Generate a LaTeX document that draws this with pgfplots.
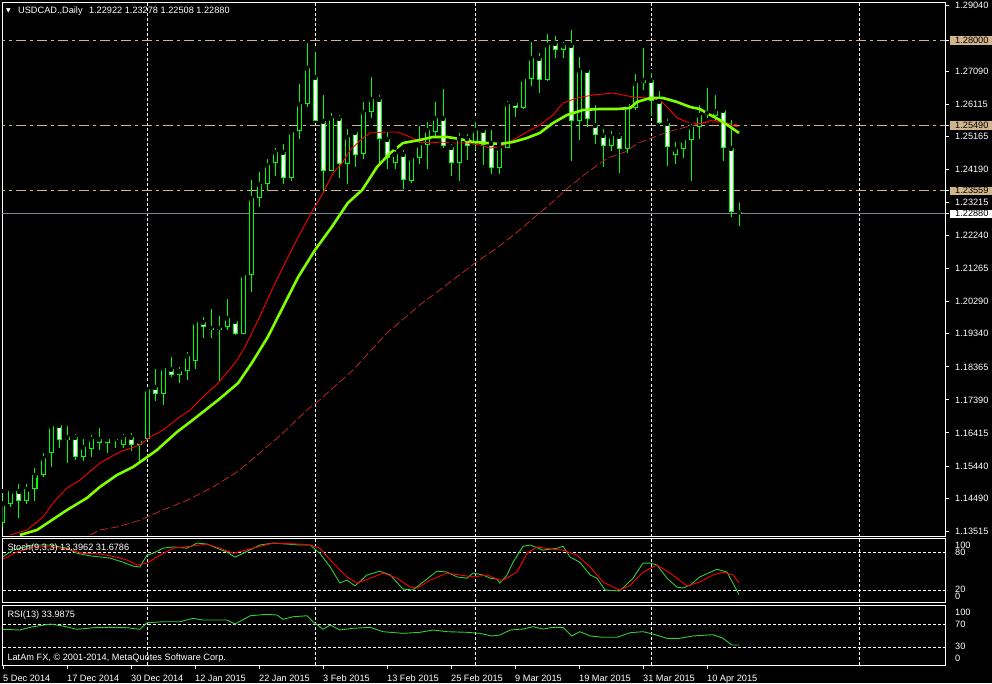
\documentclass[border=0pt]{standalone}
\usepackage{fontspec}
\setmainfont{Liberation Sans}
\newfontfamily\symfont{DejaVu Sans}
\usepackage{pgfplots}
\pgfplotsset{compat=1.18}
\usepackage{pgfplotstable}
\definecolor{mtLime}{RGB}{0,255,0}
\definecolor{maGreen}{RGB}{127,255,0}
\definecolor{maRed}{RGB}{255,0,0}
\definecolor{maDark}{RGB}{190,36,36}
\definecolor{mtTan}{RGB}{210,180,140}
\definecolor{bidGray}{RGB}{119,136,153}
\definecolor{oscGreen}{RGB}{50,205,50}
\setlength{\fboxsep}{1pt}
\newcommand{\hlbox}[2]{\hspace*{-5pt}\colorbox{#1}{\hspace*{4pt}\textcolor{black}{#2}\hspace*{3pt}}}
\newcommand{\mtfont}{\fontsize{9.2}{11}\selectfont}

\pgfplotstableread{
i O H L C
0 1.13759 1.14703 1.13641 1.14349
1 1.14320 1.14821 1.14231 1.14703
2 1.14703 1.14969 1.13907 1.14408
3 1.14408 1.14969 1.14320 1.14762
4 1.14762 1.15441 1.14408 1.15175
5 1.15175 1.15883 1.15116 1.15677
6 1.15824 1.16680 1.15411 1.16621
7 1.16650 1.16650 1.15972 1.16208
8 1.16208 1.16680 1.15529 1.16296
9 1.16296 1.16444 1.15618 1.15706
10 1.15706 1.16296 1.15588 1.16001
11 1.15942 1.16414 1.15706 1.16237
12 1.16237 1.16621 1.15913 1.16119
13 1.16119 1.16355 1.15824 1.16237
14 1.16208 1.16267 1.15972 1.16237
15 1.16060 1.16444 1.15972 1.16296
16 1.16296 1.16473 1.15883 1.16060
17 1.16060 1.16237 1.15588 1.16178
18 1.16237 1.17712 1.16237 1.17712
19 1.17771 1.18361 1.17358 1.17565
20 1.17565 1.18332 1.17240 1.18332
21 1.18302 1.18715 1.18066 1.18125
22 1.18125 1.18420 1.17889 1.18243
23 1.18243 1.18863 1.17978 1.18686
24 1.18538 1.19718 1.18302 1.19689
25 1.19689 1.19895 1.19217 1.19541
26 1.19453 1.20131 1.19217 1.19512
27 1.19453 1.19925 1.17948 1.19512
28 1.19541 1.20426 1.19453 1.19807
29 1.19718 1.19836 1.19305 1.19335
30 1.19335 1.21075 1.19335 1.21075
31 1.21075 1.23937 1.20574 1.23347
32 1.23347 1.24173 1.23081 1.23760
33 1.23760 1.24556 1.23553 1.24320
34 1.24379 1.24881 1.23996 1.24704
35 1.24704 1.24999 1.23760 1.23937
36 1.23937 1.25353 1.23848 1.25294
37 1.25323 1.26769 1.25087 1.26120
38 1.26120 1.27978 1.26031 1.27182
39 1.26916 1.27713 1.25618 1.25618
40 1.25618 1.26444 1.23494 1.24143
41 1.24143 1.25913 1.24143 1.25707
42 1.25707 1.25854 1.23937 1.24350
43 1.24350 1.25441 1.23760 1.25146
44 1.25294 1.25382 1.24261 1.24615
45 1.24645 1.26238 1.24497 1.25884
46 1.25884 1.26975 1.25707 1.26267
47 1.26267 1.26444 1.24379 1.25087
48 1.25087 1.25353 1.24202 1.24527
49 1.24379 1.24822 1.24202 1.24645
50 1.24645 1.24822 1.23612 1.23878
51 1.23848 1.24645 1.23789 1.24527
52 1.24527 1.25530 1.24350 1.24910
53 1.24910 1.25648 1.24202 1.25353
54 1.25294 1.26238 1.25146 1.25707
55 1.25707 1.26621 1.24822 1.24881
56 1.24851 1.24999 1.23996 1.24379
57 1.24379 1.25323 1.23848 1.25117
58 1.25117 1.25294 1.24468 1.24881
59 1.24999 1.25648 1.24763 1.25353
60 1.25353 1.25412 1.24320 1.24910
61 1.24969 1.25412 1.24055 1.24232
62 1.24232 1.24940 1.24055 1.24822
63 1.24822 1.26267 1.24822 1.26120
64 1.26149 1.26267 1.25736 1.26002
65 1.26002 1.26887 1.25972 1.26857
66 1.26857 1.28008 1.26651 1.27477
67 1.27477 1.27683 1.26444 1.26828
68 1.26828 1.28244 1.26798 1.27860
69 1.27919 1.28185 1.27477 1.27713
70 1.27713 1.28008 1.27477 1.27860
71 1.27860 1.28362 1.24438 1.25618
72 1.25618 1.27565 1.25058 1.27123
73 1.27123 1.27241 1.25441 1.25677
74 1.25500 1.26149 1.24940 1.25205
75 1.25205 1.25441 1.24261 1.24881
76 1.24881 1.25382 1.24733 1.25176
77 1.25176 1.25323 1.24084 1.24792
78 1.24792 1.26149 1.24674 1.26120
79 1.26002 1.27064 1.25943 1.26739
80 1.26739 1.27831 1.26533 1.26828
81 1.26828 1.27093 1.25766 1.26208
82 1.26208 1.26562 1.25530 1.25559
83 1.25559 1.25736 1.24291 1.24851
84 1.24615 1.25058 1.24350 1.24792
85 1.24792 1.25176 1.24527 1.25058
86 1.25058 1.25589 1.23848 1.25441
87 1.25441 1.26149 1.25087 1.25795
88 1.25795 1.26651 1.25707 1.25854
89 1.25766 1.26444 1.25618 1.25913
90 1.25943 1.26061 1.24438 1.24822
91 1.24822 1.25707 1.22786 1.22922
92 1.22922 1.23278 1.22508 1.22880
}\candles

\pgfplotsset{
  mtpanel/.style={
    scale only axis, width=942.5pt,
    xmin=-0.0625, xmax=117.75,
    axis line style={draw=white, line width=1pt},
    tick style={draw=white, line width=1pt},
    major grid style={draw=white, line width=0.8pt, dash pattern=on 3pt off 2pt},
    tick label style={font=\mtfont, text=white},
    axis background/.style={fill=black},
  },
  bar/.style={only marks, mark=none, forget plot,
    error bars/.cd, y dir=minus, y explicit, error mark=none},
}

\begin{document}
\begin{tikzpicture}
\fill[black] (0pt,0pt) rectangle (992pt,683pt);

% ---------- main price panel ----------
\begin{axis}[mtpanel, at={(2.5pt,146.5pt)}, anchor=south west, height=534pt,
  ymin=1.13361, ymax=1.29114,
  xtick={18,39,59,81,107}, xticklabels={}, xmajorticks=false, xmajorgrids=true,
  ytick={1.13515,1.14490,1.15440,1.16415,1.17390,1.18365,1.19340,1.20290,1.21265,1.22240,1.22880,1.23215,1.23559,1.24190,1.25165,1.25490,1.26115,1.27090,1.28000,1.29040},
  yticklabels={1.13515,1.14490,1.15440,1.16415,1.17390,1.18365,1.19340,1.20290,1.21265,1.22240,\hlbox{white}{1.22880},1.23215,\hlbox{mtTan}{1.23559},1.24190,1.25165,\hlbox{mtTan}{1.25490},1.26115,1.27090,\hlbox{mtTan}{1.28000},1.29040},
  ytick pos=right, yticklabel pos=right, ytick align=outside, major tick length=4pt,
  yticklabel style={anchor=west, inner sep=0pt, xshift=6pt},
]
% user horizontal lines and bid line
\addplot[mtTan, line width=0.8pt, dash pattern=on 10pt off 4pt on 3pt off 4pt, forget plot] coordinates {(-1,1.28000) (118,1.28000)};
\addplot[mtTan, line width=0.8pt, dash pattern=on 10pt off 4pt on 3pt off 4pt, forget plot] coordinates {(-1,1.25490) (118,1.25490)};
\addplot[mtTan, line width=0.8pt, dash pattern=on 10pt off 4pt on 3pt off 4pt, forget plot] coordinates {(-1,1.23559) (118,1.23559)};
\addplot[bidGray, line width=1pt, forget plot] coordinates {(-1,1.22880) (118,1.22880)};

% candles: wicks
\addplot[bar, error bar style={draw=mtLime, line width=1pt, solid}]
  table[x=i, y=H, y error minus expr={\thisrow{H}-\thisrow{L}}] {\candles};
% bodies (outline)
\addplot[bar, error bar style={draw=mtLime, line width=5pt, solid}]
  table[x=i, y expr={max(\thisrow{O},\thisrow{C})}, y error minus expr={max(abs(\thisrow{O}-\thisrow{C}),0.0003)}] {\candles};
% bull bodies: black inside
\addplot[restrict expr to domain={\thisrow{C}-\thisrow{O}}{0.0007:1}, bar, error bar style={draw=black, line width=3pt, solid}]
  table[x=i, y expr={\thisrow{C}-0.0003}, y error minus expr={\thisrow{C}-\thisrow{O}-0.0006}] {\candles};
% bear bodies: white inside
\addplot[restrict expr to domain={\thisrow{O}-\thisrow{C}}{0.0007:1}, bar, error bar style={draw=white, line width=3pt, solid}]
  table[x=i, y expr={\thisrow{O}-0.0003}, y error minus expr={\thisrow{O}-\thisrow{C}-0.0006}] {\candles};

% long moving average (dashed dark red)
\addplot[maDark, line width=0.8pt, dash pattern=on 8pt off 3pt, forget plot] coordinates {
(10.9,1.13405) (12.1,1.13553) (14.25,1.13641) (17.1,1.13840) (20,1.14143) (23,1.14430) (26.25,1.14821) (29.25,1.15264) (32.1,1.15824) (35,1.16414) (38,1.17093) (39.6,1.17388) (43.75,1.18273) (48,1.19365) (52.1,1.20191) (56.25,1.20928) (59,1.21430) (61.75,1.21872) (64.6,1.22403) (66.9,1.22875) (68,1.23081) (70.6,1.23642) (73.1,1.24114) (75.6,1.24527) (77.75,1.24704) (79.4,1.24969) (81.1,1.25117) (83.1,1.25294) (84.9,1.25412) (86.5,1.25500) (88.1,1.25589) (89.9,1.25589) (91.75,1.25500)};
% fast moving average (red)
\addplot[maRed, line width=0.9pt, forget plot] coordinates {
(0.9,1.13405) (3,1.13553) (5,1.13936) (6.25,1.14349) (8,1.14792) (9.6,1.15020) (12.1,1.15529) (14.6,1.15854) (17.1,1.16060) (18.4,1.16296) (20,1.16503) (22.1,1.16887) (23.4,1.17093) (24.6,1.17388) (26.9,1.17889) (29,1.18479) (30.25,1.18952) (31.9,1.19748) (33.6,1.20633) (35.25,1.21427) (36.9,1.22197) (38.6,1.22934) (40,1.23494) (41.25,1.24080) (42.4,1.24379) (43.4,1.24763) (45,1.25117) (45.9,1.25265) (48,1.25294) (49.25,1.25294) (50.9,1.25146) (52.1,1.24999) (53.4,1.24969) (54.6,1.24999) (56.25,1.24969) (58,1.24969) (59.6,1.24910) (60.9,1.24822) (62.1,1.24851) (63.75,1.25058) (65.5,1.25294) (67.1,1.25500) (68.75,1.25795) (70,1.26149) (71.75,1.26297) (73.75,1.26385) (76.25,1.26444) (78.75,1.26326) (80.9,1.26297) (82.1,1.26238) (83,1.26031) (84.25,1.25707) (85.5,1.25589) (87.1,1.25530) (88.75,1.25648) (89.6,1.25589) (90.9,1.25500) (91.9,1.25441)};
% medium moving average (thick lime)
\addplot[maGreen, line width=2.6pt, forget plot] coordinates {
(2.1,1.13405) (4.25,1.13553) (8,1.14143) (10.5,1.14498) (12.1,1.14822) (14.25,1.15175) (16.25,1.15411) (17.5,1.15618) (19.25,1.15913) (21.75,1.16444) (23.4,1.16740) (26.9,1.17388) (29.4,1.17889) (31.1,1.18479) (33.1,1.19247) (35.25,1.20249) (36.9,1.21016) (39,1.21813) (41.1,1.22492) (43.1,1.23199) (44.9,1.23583) (46.75,1.24261) (48.4,1.24674) (50,1.24969) (52.1,1.25058) (53.75,1.25147) (55.5,1.25147) (57.1,1.25087) (58.75,1.24999) (60.5,1.24969) (62.1,1.24940) (63.75,1.24999) (65.5,1.25117) (67.1,1.25265) (68.75,1.25559) (70.5,1.25795) (72.5,1.25943) (74.6,1.25972) (76.75,1.25972) (78.4,1.26002) (79.25,1.26179) (80.9,1.26297) (82.5,1.26297) (84.25,1.26179) (85.9,1.26031) (87.1,1.25972) (88.4,1.25795) (89.6,1.25648) (91.1,1.25412) (92,1.25265)};
\end{axis}

% ---------- stochastic panel ----------
\begin{axis}[mtpanel, at={(2.5pt,81pt)}, anchor=south west, height=63.5pt,
  ymin=1.7, ymax=101.2,
  xtick={18,39,59,81,107}, xticklabels={}, xmajorticks=false, xmajorgrids=true,
  ytick={20,80}, yticklabels={}, ymajorticks=false, ymajorgrids=true]
\addplot[oscGreen, line width=0.9pt] coordinates {
(0,72.7) (1.25,83) (3.75,91) (5.9,91) (8,86) (9.25,78) (10.9,74) (13.4,70.5) (15,64) (16.25,58) (17.1,56.5) (18,75) (18.75,78) (20,86) (21.25,88) (23,86) (24.25,94) (25.5,92.5) (26.75,86) (28,80) (29,72) (30,78) (32.1,91) (33.75,94) (35.5,92.5) (37.1,91) (38.4,91) (39.6,78) (40.9,56.5) (42.1,31.4) (43,36) (44,27) (45.5,44) (47.1,50) (48.4,44) (50,22) (51.25,20.5) (52.5,33) (54.25,50) (55.5,48.6) (56.75,41) (58,39) (58.75,47) (60,44) (60.9,39) (61.75,37.6) (62.1,31.4) (63,44) (63.75,64) (65,89) (65.9,91) (67.5,83) (69.25,86) (70,89) (70.9,72) (72.1,64) (73.4,44) (74.25,39) (75.25,20.5) (77.1,19) (78.75,39) (80,62.7) (80.9,62.7) (81.75,59.6) (83,39) (84.25,25) (85,23.6) (85.9,28) (87.1,41) (89.25,53) (90.5,48.6) (92,13.4)};
\addplot[maRed, line width=0.9pt] coordinates {
(0,69) (1.75,80) (3.75,88) (5.9,88) (8,85) (10,78) (12.1,77) (14.25,72) (15.5,67.4) (16.75,59.6) (18,62.7) (19.6,75) (21.25,86) (23.4,89) (25.5,92.5) (27.1,86) (28.75,78) (31.25,86) (33.75,94) (37.1,92.5) (38.4,91) (39.6,86) (41.25,62.7) (43,41) (44.25,31.4) (45.9,39) (47.5,47) (49.25,39) (50.9,25) (51.75,23.6) (53.4,36) (55.5,47) (57.1,44) (58.75,41) (60.5,44) (62.1,36) (62.5,36) (64.25,48.6) (65.5,78) (66.75,88) (68.4,85) (70,83) (71.75,75) (73.4,56.5) (75,33) (77.1,20.5) (78.4,28) (80,48.6) (81.75,59.6) (83.4,47) (85.5,26.7) (87.1,33) (88.75,44) (90,48.6) (91.25,44) (92,31.7)};
\end{axis}

% ---------- RSI panel ----------
\begin{axis}[mtpanel, at={(2.5pt,18pt)}, anchor=south west, height=59.5pt,
  ymin=-1.3, ymax=103.9,
  xtick={0,8,16,24,32,40,48,56,64,72,80,88},
  xticklabels={5 Dec 2014,17 Dec 2014,30 Dec 2014,12 Jan 2015,22 Jan 2015,3 Feb 2015,13 Feb 2015,25 Feb 2015,9 Mar 2015,19 Mar 2015,31 Mar 2015,10 Apr 2015},
  xtick pos=bottom, xtick align=outside, major tick length=4pt,
  xticklabel style={anchor=north west, inner sep=0pt, yshift=-5.7pt},
  extra x ticks={18,39,59,81,107}, extra x tick labels={},
  extra x tick style={grid=major, major tick length=0pt},
  ytick={30,70}, yticklabels={}, ymajorticks=false, ymajorgrids=true]
\addplot[oscGreen, line width=0.9pt] coordinates {
(0,61.8) (2.1,60.6) (3.75,66.4) (5.9,71) (7.5,67.6) (9.25,61.8) (11.25,64.6) (13.4,65.3) (15.5,64.6) (17.1,61.8) (18,73.5) (20,75.2) (22.1,75.2) (23.75,81.2) (25,78.2) (28,78.2) (29,71.2) (30.9,85.8) (33,88.3) (34.25,87) (35,79.5) (36.25,84) (38,85.8) (38.75,75.2) (40,61.8) (40.9,69.4) (42.1,60.6) (43.75,63.6) (45.9,65.3) (47.5,57.6) (50,54.7) (52.1,56.5) (53.75,60.6) (55.5,57.6) (58,56.5) (59.6,54.7) (61.1,50) (62.1,51.7) (63.4,60.6) (65,62.3) (66.25,66.4) (67.5,62.3) (68.75,65.3) (70,65.3) (71.1,50) (72.1,57.6) (73.4,50) (75,47.7) (76.75,47.7) (78.4,55.8) (80,57.6) (81.25,53.5) (83,45.9) (84.6,45.9) (86.25,50) (88.75,52.3) (90,45.9) (91.1,34) (92,34)};
\end{axis}

% ---------- texts ----------
\begin{scope}[every node/.style={inner sep=0pt, text=white, font=\mtfont}]
\node[anchor=base west, font=\symfont\fontsize{6}{7}\selectfont] at (6pt,670pt) {▼};
\node[anchor=base west] at (18pt,669pt) {USDCAD.,Daily\hspace{0.7em}1.22922 1.23278 1.22508 1.22880};
\node[anchor=base west] at (7.3pt,132.3pt) {Stoch(9,3,3) 13.3962 31.6786};
\node[anchor=base west] at (7.3pt,65.7pt) {RSI(13) 33.9875};
\node[anchor=base west] at (7.3pt,22.3pt) {LatAm FX, © 2001-2014, MetaQuotes Software Corp.};
\node[anchor=west] at (955pt,138pt) {100};
\node[anchor=west] at (955pt,131pt) {80};
\node[anchor=west] at (955pt,94pt) {20};
\node[anchor=west] at (955pt,87pt) {0};
\node[anchor=west] at (955pt,70.3pt) {100};
\node[anchor=west] at (955pt,59pt) {70};
\node[anchor=west] at (955pt,36.3pt) {30};
\node[anchor=west] at (955pt,25pt) {0};
\end{scope}

\pgfresetboundingbox
\useasboundingbox (0pt,0pt) rectangle (992pt,683pt);
\end{tikzpicture}
\end{document}
